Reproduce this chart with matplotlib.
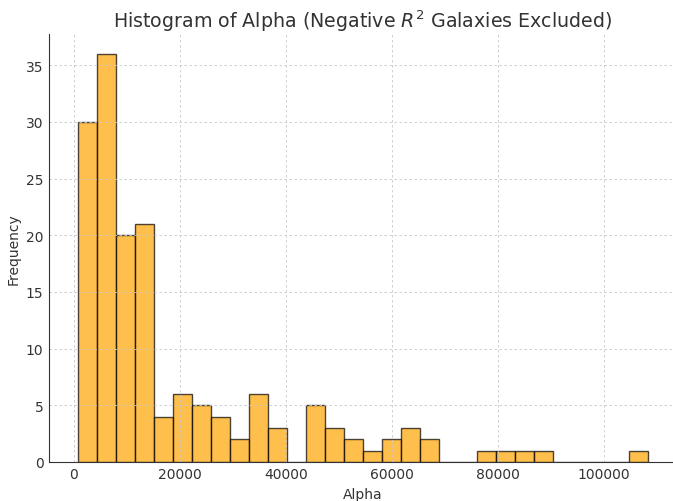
import numpy as np
import matplotlib.pyplot as plt

# alpha histogram, 30 equal bins
alpha_min = 680
alpha_max = 108240
counts = [30, 36, 20, 21, 4, 6, 5, 4, 2, 6,
          3, 0, 5, 3, 2, 1, 2, 3, 2, 0,
          0, 1, 1, 1, 1, 0, 0, 0, 0, 1]

edges = np.linspace(alpha_min, alpha_max, len(counts) + 1)
centers = (edges[:-1] + edges[1:]) / 2

txt = '#333333'
plt.rcParams['text.color'] = txt
plt.rcParams['axes.labelcolor'] = txt
plt.rcParams['xtick.color'] = txt
plt.rcParams['ytick.color'] = txt

fig, ax = plt.subplots(figsize=(6.73, 5.02), dpi=100)
ax.hist(centers, bins=edges, weights=counts, color='orange',
        edgecolor='black', alpha=0.7)
ax.set_title('Histogram of Alpha (Negative $R^2$ Galaxies Excluded)', fontsize=13.7, pad=4.5)
ax.set_xlabel('Alpha')
ax.set_ylabel('Frequency')
ax.grid(True, linestyle=(0, (3, 3)), color='#c8c8c8', linewidth=0.6)
ax.tick_params(length=0, pad=4)
ax.spines['top'].set_visible(False)
ax.spines['right'].set_visible(False)
ax.spines['left'].set_color(txt)
ax.spines['bottom'].set_color(txt)

plt.subplots_adjust(left=0.0728, right=1.005, bottom=0.078, top=0.931)
plt.savefig('out.png')
